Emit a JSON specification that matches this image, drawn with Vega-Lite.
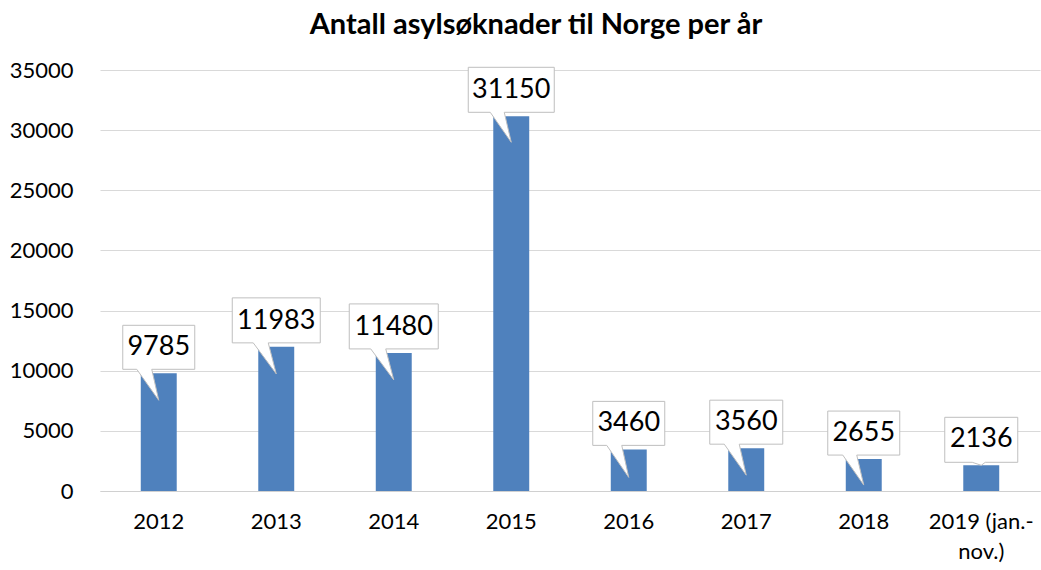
{
  "$schema": "https://vega.github.io/schema/vega-lite/v6.json",
  "width": 940,
  "height": 421,
  "autosize": {"type": "none"},
  "padding": {"left": 100, "top": 70, "right": 1, "bottom": 79},
  "background": "white",
  "config": {
    "font": "Lato",
    "view": {"stroke": null}
  },
  "title": {
    "text": "Antall asylsøknader til Norge per år",
    "font": "Lato",
    "fontSize": 29,
    "fontWeight": "bold",
    "color": "#000000",
    "anchor": "middle",
    "dx": -34,
    "offset": 19
  },
  "data": {
    "values": [
      {"year": "2012", "value": 9785},
      {"year": "2013", "value": 11983},
      {"year": "2014", "value": 11480},
      {"year": "2015", "value": 31150},
      {"year": "2016", "value": 3460},
      {"year": "2017", "value": 3560},
      {"year": "2018", "value": 2655},
      {"year": "2019 (jan.-nov.)", "value": 2136}
    ]
  },
  "encoding": {
    "x": {
      "field": "year",
      "type": "nominal",
      "sort": null,
      "scale": {"paddingInner": 0.694, "paddingOuter": 0.347},
      "axis": {
        "title": null,
        "labelAngle": 0,
        "labelFont": "Lato",
        "labelFontSize": 22,
        "labelColor": "#000000",
        "labelPadding": 20,
        "labelLineHeight": 30,
        "labelBaseline": "top",
        "ticks": false,
        "domainColor": "#d0d0d0",
        "domainWidth": 1,
        "labelExpr": "datum.value == '2019 (jan.-nov.)' ? ['2019 (jan.-', 'nov.)'] : datum.label"
      }
    },
    "y": {
      "field": "value",
      "type": "quantitative",
      "scale": {"domain": [0, 35000], "nice": false},
      "axis": {
        "title": null,
        "values": [0, 5000, 10000, 15000, 20000, 25000, 30000, 35000],
        "format": "d",
        "labelFont": "Lato",
        "labelFontSize": 22,
        "labelColor": "#000000",
        "labelPadding": 27,
        "ticks": false,
        "domain": false,
        "gridColor": "#d9d9d9",
        "gridWidth": 1
      }
    }
  },
  "layer": [
    {
      "mark": {"type": "bar", "color": "#4F81BD"}
    },
    {
      "mark": {
        "type": "point",
        "filled": true,
        "fill": "white",
        "stroke": "#bfbfbf",
        "strokeWidth": 1,
        "opacity": 1,
        "fillOpacity": 1,
        "size": 4
      },
      "encoding": {
        "shape": {
          "field": "year",
          "legend": null,
          "scale": {
            "domain": ["2012", "2013", "2014", "2015", "2016", "2017", "2018", "2019 (jan.-nov.)"],
            "range": [
              "M -36 -48 L 36 -48 L 36 -4 L -7 -4 L 0 27 L -22 -4 L -36 -4 Z",
              "M -44 -49 L 44 -49 L 44 -4 L -8 -4 L 0 27 L -23 -4 L -44 -4 Z",
              "M -44.5 -49 L 44.5 -49 L 44.5 -4 L -8 -4 L 0 27 L -23 -4 L -44.5 -4 Z",
              "M -43 -49 L 43 -49 L 43 -4 L -7 -4 L 0 26 L -21 -4 L -43 -4 Z",
              "M -36 -48 L 36 -48 L 36 -4 L -7 -4 L 0 28 L -22 -4 L -36 -4 Z",
              "M -36.5 -48 L 36.5 -48 L 36.5 -4 L -7 -4 L 0 27 L -22 -4 L -36.5 -4 Z",
              "M -36 -48 L 36 -48 L 36 -4 L -7 -4 L 0 26 L -21 -4 L -36 -4 Z",
              "M -36.5 -48 L 36.5 -48 L 36.5 -3 L 4 -3 L 0 0 L -9 -3 L -36.5 -3 Z"
            ]
          }
        }
      }
    },
    {
      "mark": {
        "type": "text",
        "font": "Lato",
        "fontSize": 27,
        "color": "#000000",
        "baseline": "middle",
        "align": "center",
        "dy": -26
      },
      "encoding": {
        "text": {"field": "value", "type": "quantitative", "format": "d"}
      }
    }
  ]
}
